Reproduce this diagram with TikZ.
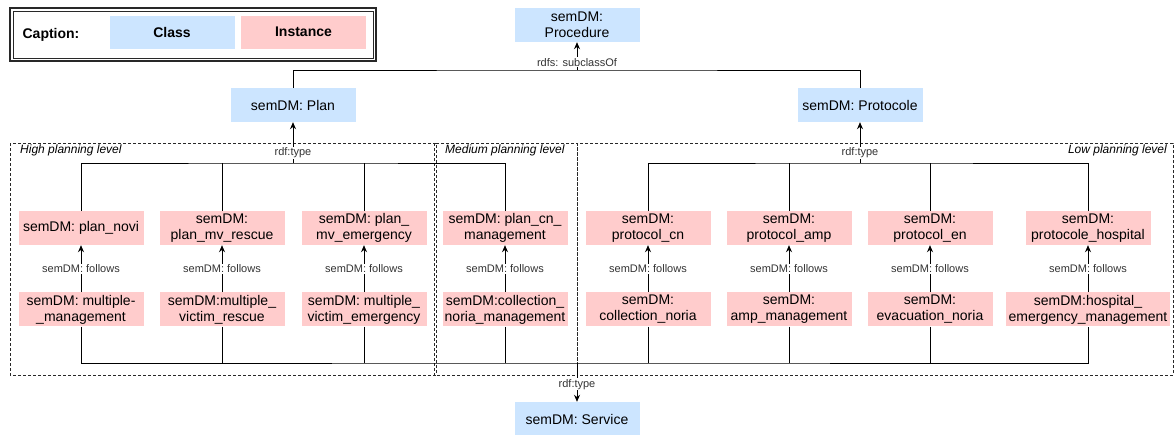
\documentclass[tikz,border=0pt]{standalone}
\usepackage{fontspec}
\setmainfont{Liberation Sans}
\usepackage{xcolor}
\usepackage{tikz}
\usetikzlibrary{arrows.meta, positioning}
\definecolor{classblue}{RGB}{204, 229, 255}
\definecolor{instpink}{RGB}{255, 204, 204}
\definecolor{framegray}{RGB}{40, 40, 40}

\begin{document}
\begin{tikzpicture}[x=1pt, y=-1pt,
    cls/.style={fill=classblue, rectangle, minimum width=125pt, minimum height=34pt, inner sep=0pt, align=center, font=\fontsize{14}{16}\selectfont},
    inst/.style={fill=instpink, rectangle, minimum width=125pt, minimum height=34pt, inner sep=0pt, align=center, font=\fontsize{14}{16}\selectfont},
    lbl/.style={fill=white, inner sep=1pt, font=\fontsize{11}{12}\selectfont, text=black!80},
    link/.style={draw=black, line width=0.9pt},
    arr/.style={link, -{Stealth[length=7pt, width=6pt]}},
    frame/.style={draw=framegray, dash pattern=on 3pt off 2pt, line width=0.7pt},
    lvl/.style={inner sep=0pt, font=\itshape\fontsize{12}{14}\selectfont}
]
    \useasboundingbox (0,0) rectangle (1176,434);

    % Caption
    \draw[framegray, line width=1.6pt] (10,8) rectangle (376,61);
    \draw[framegray, line width=0.7pt] (13,11) rectangle (373,58);
    \node[font=\bfseries\fontsize{14}{16}\selectfont] (capt) at (51,35) {Caption:};
    \node[cls, minimum height=33pt, font=\bfseries\fontsize{14}{16}\selectfont] (legclass) at (172,32) {Class};
    \node[inst, minimum height=33pt, font=\bfseries\fontsize{14}{16}\selectfont] (leginst) at (303.5,32) {Instance};

    % Planning levels
    \draw[frame] (10,143) rectangle (436,375);
    \draw[frame] (434,143) rectangle (577,375);
    \draw[frame] (577,143) rectangle (1173,375);
    \node[lvl, anchor=west] (lvlhigh) at (20,150) {High planning level};
    \node[lvl, anchor=west] (lvlmed) at (445,150) {Medium planning level};
    \node[lvl, anchor=east] (lvllow) at (1167,150) {Low planning level};

    % Classes
    \node[cls] (proc) at (577,25) {semDM:\\Procedure};
    \node[cls] (plan) at (293,105) {semDM: Plan};
    \node[cls] (protocole) at (860,105) {semDM: Protocole};
    \node[cls] (service) at (577,419) {semDM: Service};

    % Instances
    \node[inst] (p1) at (81,228) {semDM: plan\_novi};
    \node[inst] (p2) at (222,228) {semDM:\\plan\_mv\_rescue};
    \node[inst] (p3) at (364,228) {semDM: plan\_\\mv\_emergency};
    \node[inst] (p4) at (505,228) {semDM: plan\_cn\_\\management};
    \node[inst] (t1) at (648,228) {semDM:\\protocol\_cn};
    \node[inst] (t2) at (789,228) {semDM:\\protocol\_amp};
    \node[inst] (t3) at (930,228) {semDM:\\protocol\_en};
    \node[inst] (t4) at (1088,228) {semDM:\\protocole\_hospital};

    \node[inst, below=47pt of p1] (m1) {semDM: multiple-\\\_management};
    \node[inst, below=47pt of p2] (m2) {semDM:multiple\_\\victim\_rescue};
    \node[inst, below=47pt of p3] (m3) {semDM: multiple\_\\victim\_emergency};
    \node[inst, below=47pt of p4] (m4) {semDM:collection\_\\noria\_management};
    \node[inst, below=47pt of t1] (n1) {semDM:\\collection\_noria};
    \node[inst, below=47pt of t2] (n2) {semDM:\\amp\_management};
    \node[inst, below=47pt of t3] (n3) {semDM:\\evacuation\_noria};
    \node[inst, below=47pt of t4, minimum width=164pt] (n4) {semDM:hospital\_\\emergency\_management};

    % Junctions
    \coordinate (procJ) at (577,70);
    \coordinate (planJ) at (293,163);
    \coordinate (protJ) at (860,163);
    \coordinate (servJ) at (577,363);

    % Connections
    \draw[link] (plan.north) |- (procJ) -| (protocole.north);
    \draw[arr] (procJ) -- node[lbl, pos=0.28]{rdfs: subclassOf} (proc.south);

    \draw[link] (p1.north) |- (planJ) -| (p4.north);
    \draw[link] (p2.north) -- (p2.north |- planJ);
    \draw[link] (p3.north) -- (p3.north |- planJ);
    \draw[arr] (planJ) -- node[lbl, pos=0.25]{rdf:type} (plan.south);

    \draw[link] (t1.north) |- (protJ) -| (t4.north);
    \draw[link] (t2.north) -- (t2.north |- protJ);
    \draw[link] (t3.north) -- (t3.north |- protJ);
    \draw[arr] (protJ) -- node[lbl, pos=0.25]{rdf:type} (protocole.south);

    \foreach \from/\to in {m1/p1, m2/p2, m3/p3, m4/p4, n1/t1, n2/t2, n3/t3, n4/t4}
        \draw[arr] (\from.north) -- node[lbl]{semDM: follows} (\to.south);

    \draw[link] (m1.south) |- (servJ) -| (n4.south);
    \foreach \n in {m2, m3, m4, n1, n2, n3}
        \draw[link] (\n.south) -- (\n.south |- servJ);
    \draw[arr] (servJ) -- node[lbl, pos=0.55]{rdf:type} (service.north);
\end{tikzpicture}
\end{document}
